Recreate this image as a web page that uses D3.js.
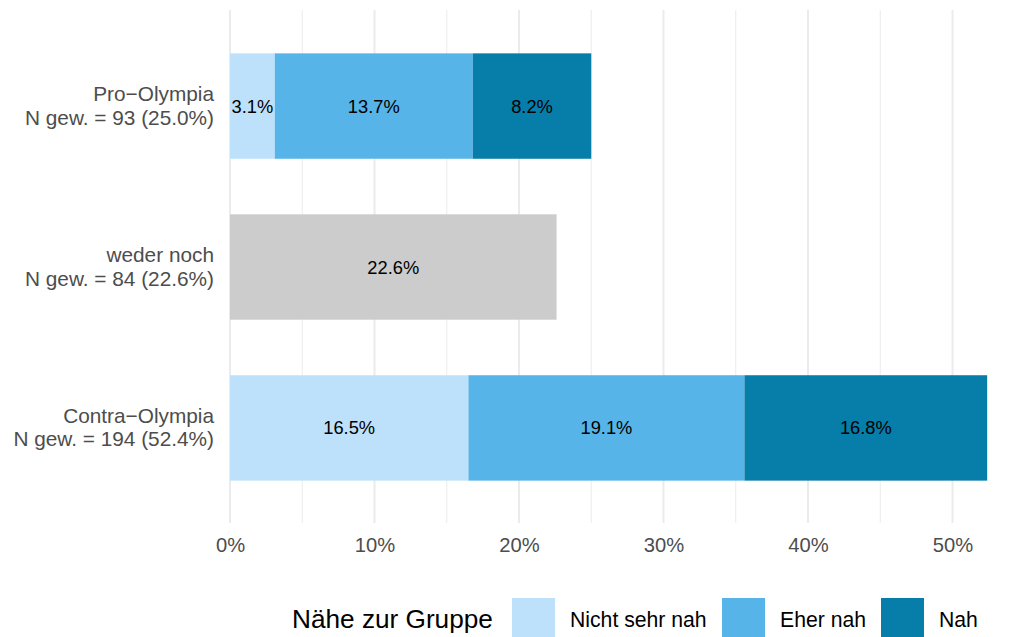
<!DOCTYPE html>
<html>
<head>
<meta charset="utf-8">
<script src="https://cdn.jsdelivr.net/npm/d3@7"></script>
<style>
  body { margin: 0; background: #fff; }
  svg { font-family: "Liberation Sans", Arial, sans-serif; }
</style>
</head>
<body>
<svg id="chart" width="1013" height="637"></svg>
<script>
// data
const groups = ['Pro\u2212Olympia', 'weder noch', 'Contra\u2212Olympia'];
const groupN = ['N gew. = 93 (25.0%)', 'N gew. = 84 (22.6%)', 'N gew. = 194 (52.4%)'];
const levels = ['Nicht sehr nah', 'Eher nah', 'Nah'];
const nichtSehrNah = [3.1, 0, 16.5];
const eherNah = [13.7, 0, 19.1];
const nah = [8.2, 0, 16.8];
const wederNoch = [0, 22.6, 0];
const xTicks = [0, 10, 20, 30, 40, 50];
const legendTitle = 'Nähe zur Gruppe';

const colors = ['#bee1fb', '#56b4e8', '#077daa'];
const greyColor = '#cccccc';

const svg = d3.select('#chart');
const plotLeft = 230, plotTop = 10, plotBottom = 523;

const x = d3.scaleLinear().domain([0, 53.5]).range([plotLeft, plotLeft + 53.5 * 14.45]);
const y = d3.scaleBand().domain(groups).range([26, 508]).paddingInner(0.345).paddingOuter(0.17);

// gridlines (minor + major)
const minor = d3.range(5, 55, 10);
svg.append('g').selectAll('line').data(minor).enter().append('line')
  .attr('x1', d => x(d)).attr('x2', d => x(d))
  .attr('y1', plotTop).attr('y2', plotBottom)
  .attr('stroke', '#ebebeb').attr('stroke-width', 1);
svg.append('g').selectAll('line').data(xTicks).enter().append('line')
  .attr('x1', d => x(d)).attr('x2', d => x(d))
  .attr('y1', plotTop).attr('y2', plotBottom)
  .attr('stroke', '#ebebeb').attr('stroke-width', 2);

// stacked segments
const series = [nichtSehrNah, eherNah, nah];
const segs = [];
groups.forEach((g, i) => {
  let acc = 0;
  if (wederNoch[i] > 0) {
    segs.push({ g: g, x0: 0, x1: wederNoch[i], v: wederNoch[i], c: greyColor });
    return;
  }
  series.forEach((s, j) => {
    segs.push({ g: g, x0: acc, x1: acc + s[i], v: s[i], c: colors[j] });
    acc += s[i];
  });
});

svg.append('g').selectAll('rect').data(segs).enter().append('rect')
  .attr('x', d => x(d.x0))
  .attr('width', d => x(d.x1) - x(d.x0))
  .attr('y', d => y(d.g))
  .attr('height', y.bandwidth())
  .attr('fill', d => d.c);

svg.append('g').selectAll('text').data(segs).enter().append('text')
  .attr('x', d => (x(d.x0) + x(d.x1)) / 2)
  .attr('y', d => y(d.g) + y.bandwidth() / 2 + 6.5)
  .attr('text-anchor', 'middle')
  .attr('font-size', 18.3)
  .attr('fill', '#000')
  .text(d => d.v.toFixed(1) + '%');

// y axis labels
const yl = svg.append('g').selectAll('text').data(groups).enter().append('text')
  .attr('text-anchor', 'end')
  .attr('font-size', 20.8)
  .attr('fill', '#4d4d4d');
yl.append('tspan').attr('x', 214).attr('y', d => y(d) + y.bandwidth() / 2 - 5).text(d => d);
yl.append('tspan').attr('x', 214).attr('y', (d, i) => y(d) + y.bandwidth() / 2 + 18.5).text((d, i) => groupN[i]);

// x axis
const xAxis = svg.append('g')
  .attr('transform', `translate(0, ${plotBottom})`)
  .call(d3.axisBottom(x).tickValues(xTicks).tickFormat(d => d + '%').tickSize(0).tickPadding(0));
xAxis.select('.domain').remove();
xAxis.selectAll('text')
  .attr('dy', null)
  .attr('y', 29)
  .attr('font-family', '"Liberation Sans", Arial, sans-serif')
  .attr('font-size', 20.2)
  .attr('fill', '#4d4d4d');

// legend
const lg = svg.append('g');
lg.append('text').attr('x', 292).attr('y', 628).attr('font-size', 26.2).attr('fill', '#000').text(legendTitle);
const keyX = [512, 722, 881];
const labX = [570, 780, 939];
levels.forEach((l, i) => {
  lg.append('rect').attr('x', keyX[i]).attr('y', 598).attr('width', 43).attr('height', 43).attr('fill', colors[i]);
  lg.append('text').attr('x', labX[i]).attr('y', 627).attr('font-size', 21.2).attr('fill', '#000').text(l);
});
</script>
</body>
</html>
